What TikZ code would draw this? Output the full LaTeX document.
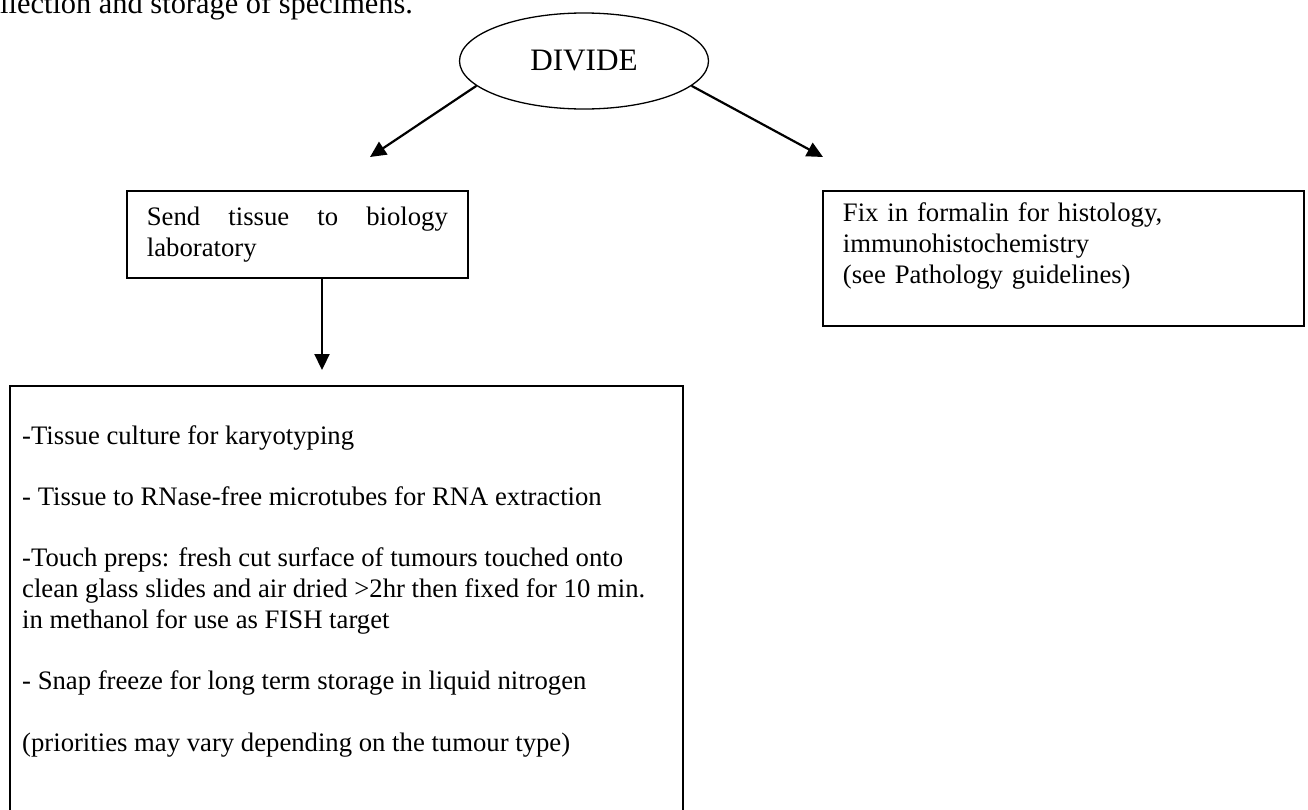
\documentclass[tikz,border=0pt]{standalone}
\usepackage{fontspec}
\setmainfont{Liberation Serif}
\usetikzlibrary{shapes.geometric,arrows.meta,positioning}
\tikzset{bodytext/.style={font=\fontsize{26.7}{30.7}\selectfont},
    flowbox/.style={draw, rectangle, line width=1.8pt, bodytext,
        align=left, inner xsep=20pt, inner ysep=0pt, anchor=north west},
    flowarrow/.style={line width=2.2pt, -{Triangle[length=16pt,width=15pt]}},
    }

\begin{document}
\begin{tikzpicture}[x=1pt,y=-1pt]
	\useasboundingbox (0,0) rectangle (1308,809);
	\clip (0,0) rectangle (1308,809);
	\node[anchor=base west, inner sep=0pt, font=\fontsize{30.4}{35}\selectfont] (heading) at (0,13) {llection and storage of specimens.};
	\node[draw, ellipse, line width=1.3pt, minimum width=249pt, minimum height=96pt,
		inner sep=0pt, font=\fontsize{31.2}{36}\selectfont] (divide) at (584,61) {\raisebox{-3pt}{DIVIDE}};
	\node[flowbox, text width=301pt, minimum height=87pt] (send) at (126,190)
		{Send\hfill tissue\hfill to\hfill biology\\laboratory};
	\node[flowbox, text width=441pt, minimum height=135pt] (fix) at (822,190)
		{Fix in formalin for histology,\\immunohistochemistry\\(see Pathology guidelines)\\\mbox{}};
	\node[flowbox, minimum width=673pt, minimum height=460pt] (tasks) at (9,385) {};
	\node[bodytext, align=left, inner sep=0pt, anchor=north west,
		below right=40pt and 13pt of tasks.north west] (tasklist)
		{-Tissue culture for karyotyping\\[30.7pt]
		- Tissue to RNase-free microtubes for RNA extraction\\[30.7pt]
		-Touch preps: fresh cut surface of tumours touched onto\\
		clean glass slides and air dried >2hr then fixed for 10 min.\\
		in methanol for use as FISH target\\[30.7pt]
		- Snap freeze for long term storage in liquid nitrogen\\[30.7pt]
		(priorities may vary depending on the tumour type)};
	% free ends of the arrows
	\coordinate (sendTip) at (370,157);
	\coordinate (fixTip) at (823,157);
	\coordinate (tasksTip) at (322,370);
	\draw[flowarrow] (divide.193) -- (sendTip);
	\draw[flowarrow] (divide.347) -- (fixTip);
	\draw[flowarrow] (send.south -| tasksTip) -- (tasksTip);
\end{tikzpicture}
\end{document}
